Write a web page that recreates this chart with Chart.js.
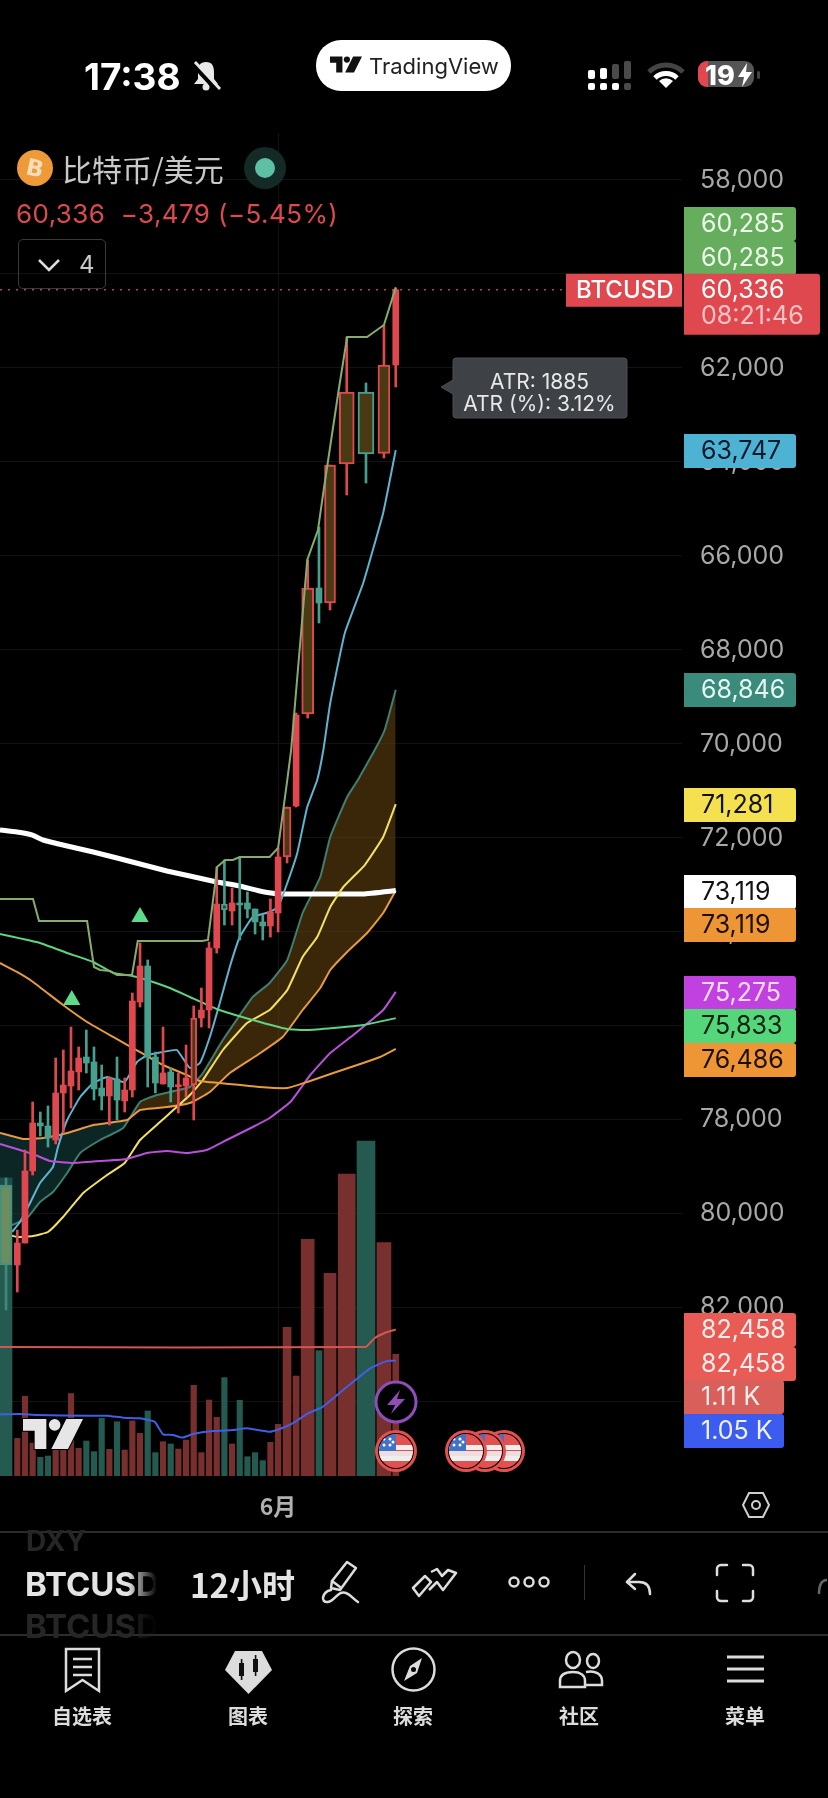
<!DOCTYPE html>
<html>
<head>
<meta charset="utf-8">
<title>BTCUSD 12h</title>
<script src="https://cdn.jsdelivr.net/npm/chart.js@4"></script>
<style>
  html, body { margin: 0; background: #000; }
  #screen { position: relative; width: 828px; height: 1798px; overflow: hidden; background: #000; font-family: Inter, "Noto Sans CJK SC", sans-serif; }
  canvas { position: absolute; left: 0; top: 0; }
  .t { position: absolute; white-space: nowrap; line-height: 1; transform: translateY(-50%); }
  .cjk { font-family: "Noto Sans CJK SC", sans-serif; }
  .tab { position: absolute; top: 1716px; width: 100px; margin-left: -50px; text-align: center; font-size: 20px; font-weight: 700; color: #dcdcdc; line-height: 1; transform: translateY(-50%); }
  svg { position: absolute; overflow: visible; }
</style>
</head>
<body>
<div id="screen">
  <canvas id="chart" width="828" height="1798"></canvas>

  <!-- status bar -->
  <div class="t" style="left:84px;top:76px;font-size:37px;font-weight:700;color:#fff">17:38</div>
  <svg style="left:192px;top:61px" width="28" height="30" viewBox="0 0 28 30" fill="#e8e8e8">
    <path d="M14 1c6 0 8 4 8 10v7l4 5H2l4-5v-7c0-6 2-10 8-10z"/>
    <circle cx="14" cy="26" r="3.5"/>
    <path d="M0 2 L25 29" stroke="#000" stroke-width="5"/>
    <path d="M3 1 L28 28" stroke="#e8e8e8" stroke-width="3"/>
  </svg>
  <div style="position:absolute;left:316px;top:40px;width:195px;height:51px;border-radius:25px;background:#fff"></div>
  <svg style="left:330px;top:56px" width="32" height="17" viewBox="0 0 36 18" fill="#111">
    <path d="M0 0H14V18H7V7H0Z"/><circle cx="19" cy="3.5" r="3.5"/><path d="M26 0H36L27 18H17Z"/>
  </svg>
  <div class="t" style="left:369px;top:66px;font-size:22px;color:#222">TradingView</div>
  <svg style="left:588px;top:60px" width="44" height="31" viewBox="0 0 44 31">
    <g fill="#fff">
      <rect x="0" y="10" width="7" height="9" rx="2"/><rect x="12" y="8" width="7" height="11" rx="2"/>
      <rect x="0" y="23" width="7" height="7" rx="2"/><rect x="12" y="23" width="7" height="7" rx="2"/><rect x="24" y="23" width="7" height="7" rx="2"/>
    </g>
    <g fill="#4a4a4a">
      <rect x="24" y="4" width="7" height="15" rx="2"/><rect x="36" y="1" width="7" height="18" rx="2"/><rect x="36" y="23" width="7" height="7" rx="2"/>
    </g>
  </svg>
  <svg style="left:647px;top:60px" width="38" height="30" viewBox="0 0 38 30" fill="none" stroke-linecap="butt">
    <path d="M2 12 A24 24 0 0 1 36 12" stroke="#444" stroke-width="5"/>
    <path d="M8 18 A16 16 0 0 1 30 18" stroke="#fff" stroke-width="5"/>
    <path d="M19 28 L12 21 A10 10 0 0 1 26 21 Z" fill="#fff"/>
  </svg>
  <div style="position:absolute;left:698px;top:61px;width:56px;height:26px;border-radius:9px;background:#555;overflow:hidden">
    <div style="width:10px;height:26px;background:#e2474f"></div>
  </div>
  <div style="position:absolute;left:757px;top:71px;width:3px;height:8px;border-radius:2px;background:#444"></div>
  <div class="t" style="left:705px;top:75px;font-size:27px;font-weight:800;color:#fff">19</div>
  <svg style="left:738px;top:63px" width="14" height="24" viewBox="0 0 14 24" fill="#fff"><path d="M9 0 L0 14 H6 L4 24 L14 9 H8 Z"/></svg>

  <!-- symbol header -->
  <svg style="left:17px;top:150px" width="36" height="36" viewBox="0 0 36 36">
    <circle cx="18" cy="18" r="18" fill="#ee9a38"/>
    <text x="18" y="26" text-anchor="middle" font-family="DejaVu Sans" font-weight="700" font-size="23" fill="#f7dcb8" transform="rotate(12 18 18)">B</text>
  </svg>
  <div class="t cjk" style="left:62px;top:168px;font-size:30px;color:#c9c9c9">比特币/美元</div>
  <svg style="left:244px;top:147px" width="42" height="42" viewBox="0 0 42 42">
    <circle cx="21" cy="21" r="21" fill="#142a27"/><circle cx="21" cy="21" r="10" fill="#5dbfa4"/>
  </svg>
  <div class="t" style="left:16px;top:214px;font-size:26px;color:#dc4a50;letter-spacing:0.4px">60,336 &nbsp;−3,479 (−5.45%)</div>
  <div style="position:absolute;left:18px;top:239px;width:86px;height:48px;border:1.5px solid #3a3a3a;border-radius:5px"></div>
  <svg style="left:38px;top:258px" width="22" height="14" viewBox="0 0 22 14" fill="none" stroke="#ddd" stroke-width="2.5"><path d="M1 2 L11 12 L21 2"/></svg>
  <div class="t" style="left:79px;top:265px;font-size:24px;color:#c9c9c9">4</div>

  <!-- event bubbles on the time scale -->
  <svg style="left:375px;top:1381px" width="42" height="42" viewBox="0 0 42 42">
    <circle cx="21" cy="21" r="20" fill="#000" stroke="#8f4db8" stroke-width="3"/>
    <path d="M25 9 L12 24 H20 L16 33 L30 18 H22 Z" fill="#8f4db8"/>
  </svg>
  <svg style="left:0;top:0" width="828" height="1798" viewBox="0 0 828 1798">
    <defs>
      <clipPath id="flagClip"><circle cx="0" cy="0" r="17"/></clipPath>
      <g id="flag">
        <circle r="21" fill="#e2504f"/><circle r="18" fill="#000"/>
        <g clip-path="url(#flagClip)">
          <rect x="-17" y="-17" width="34" height="34" fill="#e2504f"/>
          <rect x="-17" y="-6" width="34" height="5" fill="#eee"/><rect x="-17" y="5" width="34" height="5" fill="#eee"/>
          <rect x="-17" y="-17" width="17" height="17" fill="#3f72c9"/>
          <g fill="#fff"><circle cx="-12" cy="-12" r="1.5"/><circle cx="-6" cy="-12" r="1.5"/><circle cx="-12" cy="-6" r="1.5"/><circle cx="-6" cy="-6" r="1.5"/><circle cx="-3" cy="-9" r="1.5"/></g>
          <rect x="-17" y="0" width="34" height="5" fill="#eee" opacity=".9"/>
        </g>
      </g>
    </defs>
    <use href="#flag" x="504" y="1451"/>
    <use href="#flag" x="485" y="1451"/>
    <use href="#flag" x="466" y="1451"/>
    <use href="#flag" x="396" y="1451"/>
  </svg>

  <!-- watermark -->
  <svg style="left:23px;top:1418px" width="60" height="32" viewBox="0 0 36 18" fill="#e6e6e6" stroke="#000" stroke-width="1.2" paint-order="stroke">
    <path d="M0 0H14V18H7V7H0Z"/><circle cx="19" cy="3.5" r="3.5"/><path d="M26 0H36L27 18H17Z"/>
  </svg>

  <!-- indicator readout -->
  <svg style="left:438px;top:356px" width="192" height="64" viewBox="0 0 192 64">
    <path d="M18 2 H186 a3 3 0 0 1 3 3 V59 a3 3 0 0 1 -3 3 H18 a3 3 0 0 1 -3 -3 V38 L3 31 L15 24 V5 a3 3 0 0 1 3 -3 Z" fill="#3e4145" stroke="#4b4e52"/>
  </svg>
  <div class="t" style="left:452px;width:175px;text-align:center;top:381px;font-size:21px;color:#e8e8e8">ATR: 1885</div>
  <div class="t" style="left:452px;width:175px;text-align:center;top:403px;font-size:21px;color:#e8e8e8">ATR (%): 3.12%</div>

  <svg style="left:742px;top:1492px" width="28" height="26" viewBox="0 0 28 26" fill="none" stroke="#cfcfcf" stroke-width="2"><path d="M7 1 H21 L27 13 L21 25 H7 L1 13 Z"/><circle cx="14" cy="13" r="4"/></svg>

  <!-- symbol toolbar -->
  <div style="position:absolute;left:0;top:1531px;width:828px;height:2px;background:#2c2c2c"></div>
  <div style="position:absolute;left:0;top:1634px;width:828px;height:1.5px;background:#2c2c2c"></div>
  <div class="t" style="left:26px;top:1541px;font-size:28px;font-weight:700;color:#262626">DXY</div>
  <div class="t" style="left:25px;top:1584px;width:132px;overflow:hidden;font-size:33px;font-weight:700;color:#e4e4e4;-webkit-mask-image:linear-gradient(90deg,#000 78%,transparent)">BTCUSD</div>
  <div class="t" style="left:25px;top:1626px;width:132px;overflow:hidden;font-size:33px;font-weight:700;color:#262626;-webkit-mask-image:linear-gradient(90deg,#000 78%,transparent)">BTCUSD</div>
  <div class="t cjk" style="left:190px;top:1584px;font-size:33px;font-weight:700;color:#e4e4e4">12小时</div>
  <svg style="left:320px;top:1560px" width="42" height="44" viewBox="0 0 42 44" fill="none" stroke="#ddd" stroke-width="2.5" stroke-linejoin="round" stroke-linecap="round">
    <path d="M27 2 L36 8 L20 30 L11 28 L12 21 Z"/><path d="M12 21 L20 27"/>
    <path d="M11 30 C2 32 0 43 8 42 C15 41 18 30 26 33 C31 35 33 39 38 42"/>
  </svg>
  <svg style="left:411px;top:1568px" width="47" height="30" viewBox="0 0 47 30" fill="none" stroke="#ddd" stroke-width="2.5" stroke-linejoin="round">
    <path d="M2 20 L14 8 L20 14 L8 28 Z"/><path d="M20 4 L26 1 L31 8 L37 2 L45 5 L32 22 L26 14 L18 22"/>
  </svg>
  <svg style="left:507px;top:1575px" width="44" height="14" viewBox="0 0 44 14" fill="none" stroke="#ddd" stroke-width="2.5">
    <circle cx="7" cy="7" r="4.5"/><circle cx="22" cy="7" r="4.5"/><circle cx="37" cy="7" r="4.5"/>
  </svg>
  <div style="position:absolute;left:584px;top:1565px;width:1px;height:35px;background:#333"></div>
  <svg style="left:625px;top:1572px" width="28" height="24" viewBox="0 0 28 24" fill="none" stroke="#ddd" stroke-width="2.5" stroke-linecap="round" stroke-linejoin="round">
    <path d="M10 2 L2 10 L10 17"/><path d="M2 10 H14 C22 10 25 15 25 22"/>
  </svg>
  <svg style="left:715px;top:1563px" width="40" height="40" viewBox="0 0 40 40" fill="none" stroke="#ddd" stroke-width="2.5" stroke-linecap="round">
    <path d="M2 12 V6 A4 4 0 0 1 6 2 H12"/><path d="M28 2 H34 A4 4 0 0 1 38 6 V12"/><path d="M38 28 V34 A4 4 0 0 1 34 38 H28"/><path d="M12 38 H6 A4 4 0 0 1 2 34 V28"/>
  </svg>
  <svg style="left:817px;top:1578px" width="11" height="18" viewBox="0 0 11 18" fill="none" stroke="#666" stroke-width="2.5"><path d="M10 2 C4 2 2 8 2 16"/></svg>

  <!-- tab bar -->
  <svg style="left:64px;top:1647px" width="37" height="46" viewBox="0 0 37 46" fill="none" stroke="#dcdcdc" stroke-width="2.5">
    <path d="M2 2 H35 V44 L18.5 33 L2 44 Z"/><path d="M9 12 H28 M9 20 H28 M9 28 H28"/>
  </svg>
  <svg style="left:225px;top:1650px" width="47" height="44" viewBox="0 0 47 44">
    <path d="M10 1 H37 L47 20 L23.5 44 L0 20 Z" fill="#dcdcdc"/>
    <g fill="#111"><rect x="14" y="13" width="5" height="13"/><rect x="15.8" y="9" width="1.6" height="21"/><rect x="28" y="9" width="5" height="13"/><rect x="29.8" y="5" width="1.6" height="21"/></g>
  </svg>
  <svg style="left:391px;top:1647px" width="45" height="45" viewBox="0 0 45 45" fill="none" stroke="#dcdcdc" stroke-width="2.5">
    <circle cx="22.5" cy="22.5" r="21"/><path d="M31 11 L26 26 L13 34 L19 19 Z" fill="#dcdcdc" stroke="none"/><circle cx="22.5" cy="22.5" r="2.5" fill="#000" stroke="none"/>
  </svg>
  <svg style="left:558px;top:1651px" width="46" height="38" viewBox="0 0 46 38" fill="none" stroke="#dcdcdc" stroke-width="2.5">
    <ellipse cx="15" cy="9" rx="7" ry="8"/><ellipse cx="35" cy="10" rx="6" ry="7"/>
    <path d="M2 36 V30 C2 23 8 21 15 21 C22 21 27 24 27 30 V36 Z"/><path d="M28 21 C37 19 44 23 44 30 V34 H28"/>
  </svg>
  <svg style="left:727px;top:1655px" width="37" height="28" viewBox="0 0 37 28" fill="none" stroke="#dcdcdc" stroke-width="3">
    <path d="M0 2 H37 M0 14 H37 M0 26 H37"/>
  </svg>
  <div class="tab cjk" style="left:82px">自选表</div>
  <div class="tab cjk" style="left:248px">图表</div>
  <div class="tab cjk" style="left:413px">探索</div>
  <div class="tab cjk" style="left:579px">社区</div>
  <div class="tab cjk" style="left:745px">菜单</div>
</div>

<script>
// bar numbers, the last stretch of the session is spread wider on the time scale
const candleBars = [-0.47,1,2,3,4,5,6,7,8,9,10,11,12,13,14,15,16,17,18,19,20,21,22,23,24,25,26,27,28,29,30,31,32,33,34,35,36.17,37.35,38.86,40.33,41.77,43.95,46.46,48.8,50.34];
const candleOpen = [79383,81086,80617,79085,78064,78128,78426,77426,77277,76979,76660,76766,77320,77490,77128,77596,77362,75490,74724,76660,77234,76979,77277,77277,77256,75830,75660,74341,73405,73553,73383,73383,73511,73787,73872,73596,72404,71319,69362,66681,67000,64043,62511,63815,61936];
const candleClose = [81086,80617,79085,78064,78128,78383,77426,77256,76958,76681,76788,77341,77490,77107,77575,77362,75468,74724,76660,77213,77000,77298,77250,77107,75830,75660,74341,73405,73532,73383,73405,73511,73787,73872,73575,72404,71341,69383,66681,67000,64064,62511,63830,61936,60336];
const candleLow = [79235,80341,78639,77617,77830,77702,76681,76511,76022,76447,76085,76447,76830,77085,76660,77107,75298,74234,74596,76554,76022,76894,77000,76405,75575,75192,74213,72617,72468,73064,72404,73149,73511,73638,73298,72213,71341,69340,66085,65383,64064,61340,62319,61085,60298];
const candleHigh = [82043,81660,80617,79171,78341,78575,78511,78277,77745,77362,77000,77575,77788,78107,78000,77830,77511,75596,77298,77426,77234,77617,77851,77511,78000,76022,76043,74447,73851,73851,74170,73702,74043,74170,74107,74000,72532,71341,69447,67426,67149,64702,64447,63915,62404];
const volumes = [2720,343,728,300,170,182,237,237,752,252,319,222,526,243,495,237,502,389,593,213,313,292,246,328,827,213,693,535,897,292,690,176,213,140,307,471,1356,912,2158,1143,1848,2754,3055,2128,1110];

const slowMaBars = [-1.26,0.96,2.9,4.35,7.5,10.9,14,17,20.5,23.5,27,30,32.6,35.2,38.8,43.1,46.1,50.34];
const slowMa = [71830,71873,71936,72043,72170,72298,72426,72553,72702,72809,72936,73021,73128,73192,73192,73192,73192,73119];

const channelBars = [-1.26,3.05,3.83,10.1,11,11.8,13.1,14,15.96,16.7,25.1,25.86,26.8,27.04,28.1,29.1,30,33.9,35,36.2,36.7,38.5,38.8,40.2,41,42.9,44,46.6,48.8,50.34];
const channelHigh = [73298,73298,73766,73766,74745,74809,74830,74915,74915,74192,74192,74170,72958,72617,72468,72468,72404,72404,72213,70766,70128,66660,66085,65447,64532,62468,61340,61340,61085,60285];

const greenMaBars = [-1.26,3.96,7.5,10.9,13.5,16,17.9,20.9,23.5,27,31.7,36.2,38.8,42.2,46.1,50.34];
const greenMa = [74043,74234,74447,74638,74873,74936,75021,75192,75383,75638,75872,76064,76085,76043,75979,75833];

const orangeMaBars = [-1.26,0.96,3.05,6.96,10.1,13.5,17,20,23.1,24.8,28.7,32.6,36.2,38.8,42.2,46.1,48.3,50.34];
const orangeMa = [74660,74851,75064,75554,75915,76234,76554,76830,77043,77171,77234,77298,77320,77192,77000,76788,76660,76486];

const purpleMaBars = [-1.26,1.35,3.05,5.26,8.26,11.8,15.3,17.9,20.5,23.1,25.7,28.3,31.7,33.9,36.6,39.2,41.8,44.8,48.7,50.34];
const purpleMa = [78511,78639,78724,78873,78915,78873,78830,78702,78660,78702,78639,78426,78149,77957,77617,77043,76575,76192,75660,75275];

const fastMaBars = [0.31,1.35,2.66,3.96,5.65,6.3,7.5,9.2,10.9,12.7,15,16.6,18,20,21.8,23.5,24.8,26.1,27.4,28.7,30,31.7,33.9,35,36.2,37.5,38.8,40.1,40.9,41.8,43.7,46.1,48.7,50.34];
const fastMa = [80383,80171,79766,79341,79000,78575,78000,77511,77213,77085,77192,76766,76617,76553,76511,76894,76788,76234,75511,74745,74107,73681,73575,73468,72958,72319,71341,70766,70128,69128,67638,66575,65085,63747];

const bandTopBars = [-1.26,0.31,2.4,3.96,5.65,7.5,9.2,11.8,14.8,17,19.2,23.5,25.2,27.8,31.7,33.9,36.2,38.2,40.5,41.8,44,45.4,47.6,48.9,50.34];
const bandTop = [80171,80234,80064,79745,79532,79128,78702,78426,78170,77617,77468,77298,77000,76298,75383,75085,74596,73596,72830,71979,71128,70766,70128,69702,68846];

const bandBottomBars = [-1.26,1.74,4.35,7.5,10.9,15.3,17,20.5,23.5,26.1,28.7,32.3,35.6,38.2,40.5,41.8,44,46.6,48.7,50.34];
const bandBottom = [78277,78404,78383,78277,78107,78000,77788,77724,77639,77404,77000,76617,76234,75660,75192,74809,74426,74022,73596,73119];

const yellowMaBars = [-1.26,0.96,3.05,5,6.96,9.6,12.7,15,17,19.6,23.5,25.2,27.8,30.95,33.9,36.2,38.2,40.1,41.8,43.5,46.3,48.7,50.34];
const yellowMa = [80383,80490,80468,80383,80064,79554,79171,78915,78426,78043,77468,77149,76511,75937,75660,75234,74532,74107,73468,73043,72575,71979,71281];

const atrBars = [-1.26,46.4,47.6,49.2,50.34];
const atrLine = [82830,82830,82639,82511,82458];

const volumeMaBars = [-1.26,1.35,3.57,10.2,12.7,14.8,17,18.9,20,21.3,22.5,23.9,26.5,29.1,30.95,33.9,35.2,36.9,38.9,40.7,42.7,44.8,47,49.2,50.34];
const volumeMa = [562,565,556,550,550,532,526,496,380,374,350,383,410,420,435,404,429,480,572,626,739,860,982,1050,1050];

const signalBars = [8.1,17];
const signalPrices = [75447,73681];

const lastPrice = 60336;
const lastPriceBars = [-1.26,72.5];
const monthTickBar = 35;
const monthTickLabel = '6月';
const priceTicks = [58000,60000,62000,64000,66000,68000,70000,72000,74000,76000,78000,80000,82000,84000];

// price tags along the right edge
const tagTexts = ['60,285','60,285','63,747','68,846','71,281','73,119','73,119','75,275','75,833','76,486','82,458','82,458','1.11 K','1.05 K'];
const tagFills = ['#66ad5e','#66ad5e','#4eb3d3','#3a8b7b','#f5e04f','#ffffff','#ee9535','#c140e0','#55d67a','#ee9535','#e85c55','#e85c55','#d9605a','#3b5cee'];
const tagInks = ['#eef7ec','#eef7ec','#0a1a2c','#e6f6f2','#111111','#111111','#1a0f00','#fbdcff','#062210','#1a0f00','#fdeeee','#fdeeee','#fdeeee','#eef2ff'];
const tagTops = [207,241,434,673,788,875,908,976,1009,1043,1313,1347,1380,1414];
const tagWidths = [112,112,112,112,112,112,112,112,112,112,112,112,100,100];

const RED = '#e0484f';
const GREEN = '#46a08d';
const HOLLOW_FILL = '#4a3a14';

// bars drawn as outlines, and body widths where the bars spread out
const hollowBars = [0,24,28,36,38,40,41,42,43];
const bodyWidths = candleBars.map((b, i) => i === 0 ? 12 : i < 36 ? 6 : [8,6,12,6,11,15,16,12,6][i - 36]);
const volumeWidths = candleBars.map((b, i) => i === 0 ? 12 : i < 36 ? 5.5 : [8,6,13,6,12,17,18,14,6][i - 36]);

const isDown = i => candleClose[i] < candleOpen[i];
const pairs = (xs, ys) => xs.map((x, i) => ({x, y: ys[i]}));

function lineSet(label, bars, values, color, width, extra) {
  return Object.assign({
    type: 'line', label, data: pairs(bars, values), borderColor: color, borderWidth: width,
    pointRadius: 0, tension: 0.12, fill: false, order: 40, yAxisID: 'y'
  }, extra);
}

// one dataset for each bar width, since thickness is a per-dataset option
function barGroups(widths, build) {
  return [...new Set(widths)].map(w => build(w, candleBars.map((_, i) => i).filter(i => widths[i] === w)));
}

const volumeSets = barGroups(volumeWidths, (w, idx) => ({
  type: 'bar', label: 'Volume', yAxisID: 'vol', order: 100, grouped: false, barThickness: w,
  data: idx.map(i => ({x: candleBars[i], y: volumes[i]})),
  backgroundColor: idx.map(i => isDown(i) ? '#77302e' : '#245a50')
}));

const wickSet = {
  type: 'bar', label: 'Wicks', yAxisID: 'y', order: 12, grouped: false, barThickness: 2,
  data: candleBars.map((x, i) => ({x, y: [candleLow[i], candleHigh[i]]})),
  backgroundColor: candleBars.map((_, i) => isDown(i) ? RED : (i === 0 ? '#3d8a7a' : GREEN))
};

const bodySets = barGroups(bodyWidths, (w, idx) => ({
  type: 'bar', label: 'Bodies', yAxisID: 'y', order: 10, grouped: false, barThickness: w, minBarLength: 2,
  borderSkipped: false,
  data: idx.map(i => ({x: candleBars[i], y: [candleOpen[i], candleClose[i]]})),
  backgroundColor: idx.map(i => i === 0 ? '#6c8d5f' : hollowBars.includes(i) ? HOLLOW_FILL : (isDown(i) ? RED : GREEN)),
  borderColor: idx.map(i => i === 0 ? '#46907f' : isDown(i) ? RED : GREEN),
  borderWidth: idx.map(i => hollowBars.includes(i) ? 2 : 0)
}));

// the cloud is filled from its upper edge down to the lower one, under the other lines
const cloudEdge = lineSet('Cloud lower', bandBottomBars, bandBottom, '#e59a45', 2, {order: 50});
const cloudTop = lineSet('Cloud upper', bandTopBars, bandTop, '#3f7f70', 2, {order: 50});

const datasets = [
  ...volumeSets,
  lineSet('Volume MA', volumeMaBars, volumeMa, '#3f5fe6', 2, {yAxisID: 'vol', order: 60}),
  cloudEdge,
  cloudTop,
  lineSet('Slow MA', slowMaBars, slowMa, '#ffffff', 5, {order: 45}),
  lineSet('MA 75833', greenMaBars, greenMa, '#5fd384', 2),
  lineSet('MA 76486', orangeMaBars, orangeMa, '#e89b3d', 2),
  lineSet('MA 75275', purpleMaBars, purpleMa, '#ba50da', 2),
  lineSet('MA 71281', yellowMaBars, yellowMa, '#f1e064', 2),
  lineSet('MA 63747', fastMaBars, fastMa, '#5fb4d0', 2),
  lineSet('ATR', atrBars, atrLine, '#d3574f', 2, {order: 60}),
  wickSet,
  ...bodySets,
  lineSet('Channel', channelBars, channelHigh, '#86ad6e', 2, {tension: 0, order: 5}),
  {
    type: 'scatter', label: 'Signals', data: pairs(signalBars, signalPrices), yAxisID: 'y', order: 4,
    pointStyle: 'triangle', pointRadius: 10, backgroundColor: '#5fd98a', borderWidth: 0, showLine: false
  },
  lineSet('Last price', lastPriceBars, [lastPrice, lastPrice], '#b8474c', 1.5, {borderDash: [2, 6], tension: 0, order: 3})
];
cloudTop.fill = {target: datasets.indexOf(cloudEdge), above: 'rgba(100,68,18,0.58)', below: 'rgba(22,70,68,0.55)'};

const roundedTag = (ctx, x, y, w, h) => {
  ctx.beginPath();
  ctx.roundRect(x, y, w, h, [0, 3, 3, 0]);
  ctx.fill();
};

const priceTags = {
  id: 'priceTags',
  afterDraw(chart) {
    const ctx = chart.ctx;
    ctx.save();
    ctx.textBaseline = 'middle';
    ctx.font = '25px Inter';
    tagTexts.forEach((text, i) => {
      ctx.fillStyle = tagFills[i];
      roundedTag(ctx, 684, tagTops[i], tagWidths[i], 34);
      ctx.fillStyle = tagInks[i];
      ctx.fillText(text, 701, tagTops[i] + 17);
    });
    // the live price carries the bar countdown under it
    const py = chart.scales.y.getPixelForValue(lastPrice);
    ctx.fillStyle = RED;
    roundedTag(ctx, 684, py - 16, 136, 61);
    ctx.fillRect(566, py - 16, 116, 33);
    ctx.fillStyle = '#fff';
    ctx.fillText('60,336', 701, py + 1);
    ctx.font = '500 24px Inter';
    ctx.fillText('BTCUSD', 576, py + 1);
    ctx.font = '25px Inter';
    ctx.fillStyle = '#f6c4c6';
    ctx.fillText('08:21:46', 701, py + 27);
    ctx.restore();
  }
};

new Chart(document.getElementById('chart'), {
  type: 'bar',
  data: {datasets},
  plugins: [priceTags],
  options: {
    responsive: false,
    animation: false,
    layout: {autoPadding: false, padding: {top: 133}},
    plugins: {legend: {display: false}, tooltip: {enabled: false}},
    scales: {
      x: {
        type: 'linear', min: -1.256, max: 87.66, offset: false,
        grid: {color: '#131313', offset: false, drawTicks: false},
        border: {display: false},
        afterBuildTicks: s => { s.ticks = [{value: monthTickBar}]; },
        afterFit: s => { s.height = 322; s.paddingLeft = 0; s.paddingRight = 0; },
        ticks: {
          autoSkip: false, maxRotation: 0, padding: 16, color: '#b0b0b0',
          font: {family: '"Noto Sans CJK SC"', size: 23, weight: '700'},
          callback: () => monthTickLabel
        }
      },
      y: {
        position: 'right', reverse: true, min: 57000, max: 85575,
        grid: {color: '#121212', drawTicks: false},
        border: {display: false},
        afterBuildTicks: s => { s.ticks = priceTicks.map(value => ({value})); },
        afterFit: s => { s.width = 146; s.paddingTop = 0; s.paddingBottom = 0; },
        ticks: {
          padding: 18, color: '#a8a8a8',
          font: {family: 'Inter', size: 25},
          callback: v => v.toLocaleString('en-US')
        }
      },
      vol: {display: false, min: 0, max: 12248}
    }
  }
});
</script>
</body>
</html>
